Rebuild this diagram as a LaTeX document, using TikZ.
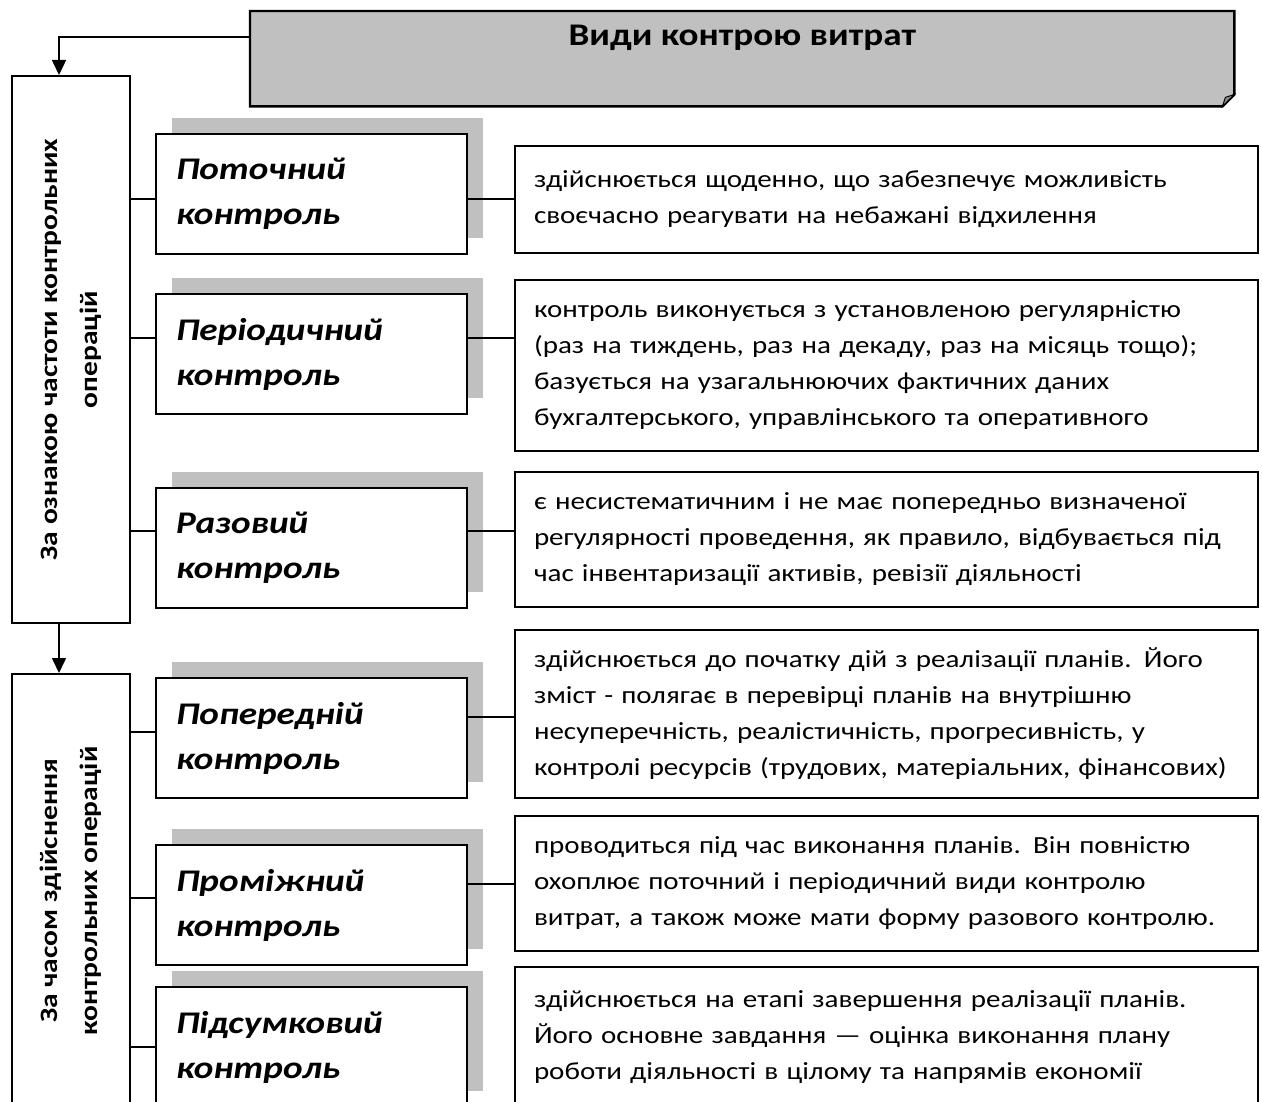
\documentclass[tikz,border=0pt]{standalone}
\usepackage{fontspec}
\setmainfont{Carlito}[FakeStretch=1.18]
\usetikzlibrary{arrows.meta,positioning,calc,shadows,backgrounds}
\definecolor{panelgray}{HTML}{C0C0C0}
\definecolor{foldgray}{HTML}{8C8C8C}
\tikzset{
  headbox/.style={
    minimum width=984pt,
    minimum height=95pt,
    inner sep=0pt,
    text height=20pt,
    text depth=47pt,
    font=\fontsize{31.5}{36}\selectfont\bfseries
  },
  headframe/.style={draw=black, line width=2.4pt, fill=panelgray},
  fold/.style={fill=foldgray, draw=black, line width=1pt},
  sidebox/.style={
    draw=black,
    line width=2pt,
    fill=white,
    minimum width=118pt,
    inner sep=0pt
  },
  sidetext/.style={rotate=90, align=center, font=\fontsize{25}{40}\selectfont\bfseries},
  kindbox/.style={
    draw=black,
    line width=2pt,
    fill=white,
    minimum height=120pt,
    text width=271pt,
    inner xsep=20pt,
    inner ysep=0pt,
    align=left,
    font=\fontsize{31.5}{45}\selectfont\bfseries\itshape,
    general shadow={fill=panelgray, shadow xshift=16pt, shadow yshift=16pt}
  },
  notebox/.style={
    draw=black,
    line width=2pt,
    fill=white,
    text width=705pt,
    inner xsep=19pt,
    inner ysep=0pt,
    align=left,
    font=\fontsize{24.6}{36}\selectfont
  },
  link/.style={line width=1.6pt, draw=black},
  feed/.style={link, -{Triangle[length=15pt, width=14pt]}}
}

\begin{document}
\begin{tikzpicture}[x=1pt, y=-1pt]

\clip (0,0) rectangle (1262,1102);

% heading with folded corner
\node[headbox, anchor=north west] (head) at (250,11) {Види контрою витрат};
\begin{pgfonlayer}{background}
  \filldraw[headframe] (head.north west) -- (head.north east) -- ($(head.south east)+(0,-12)$)
    -- ($(head.south east)+(-12,0)$) -- (head.south west) -- cycle;
  \filldraw[fold] ($(head.south east)+(-12,0)$) -- ($(head.south east)+(-9,-9)$)
    -- ($(head.south east)+(0,-12)$) -- cycle;
\end{pgfonlayer}

% grouping criteria
\node[sidebox, anchor=north west, minimum height=547pt] (freq) at (11,75) {};
\node[sidetext] (freqtxt) at (freq.center) {За ознакою частоти контрольних\\операцій};
\node[sidebox, below=49pt of freq, minimum height=434pt] (span) {};
\node[sidetext] (spantxt) at (span.center) {За часом здійснення\\контрольних операцій};

% kinds of control
\node[kindbox, anchor=north west] (current) at (155,133) {Поточний\\контроль};
\node[kindbox, below=38pt of current] (periodic) {Періодичний\\контроль};
\node[kindbox, below=72pt of periodic] (single) {Разовий\\контроль};
\node[kindbox, below=68pt of single] (prelim) {Попередній\\контроль};
\node[kindbox, below=45pt of prelim] (interim) {Проміжний\\контроль};
\node[kindbox, below=20pt of interim] (closing) {Підсумковий\\контроль};

% descriptions
\node[notebox, anchor=north west, minimum height=107pt] (currentnote) at (514,145) {здійснюється щоденно, що забезпечує можливість\\своєчасно реагувати на небажані відхилення};
\node[notebox, below=25pt of currentnote, minimum height=171pt] (periodicnote) {контроль виконується з установленою регулярністю\\(раз на тиждень, раз на декаду, раз на місяць тощо);\\базується на узагальнюючих фактичних даних\\бухгалтерського, управлінського та оперативного};
\node[notebox, below=19pt of periodicnote, minimum height=135pt] (singlenote) {є несистематичним і не має попередньо визначеної\\регулярності проведення, як правило, відбувається під\\час інвентаризації активів, ревізії діяльності};
\node[notebox, below=21pt of singlenote, minimum height=168pt] (prelimnote) {здійснюється до початку дій з реалізації планів. Його\\зміст - полягає в перевірці планів на внутрішню\\несуперечність, реалістичність, прогресивність, у\\контролі ресурсів (трудових, матеріальних, фінансових)};
\node[notebox, below=16pt of prelimnote, minimum height=135pt] (interimnote) {проводиться під час виконання планів. Він повністю\\охоплює поточний і періодичний види контролю\\витрат, а також може мати форму разового контролю.};
\node[notebox, below=14pt of interimnote, minimum height=141pt] (closingnote) {здійснюється на етапі завершення реалізації планів.\\Його основне завдання — оцінка виконання плану\\роботи діяльності в цілому та напрямів економії};

% feed arrows
\coordinate (drop) at (59,37);
\draw[feed] (head.west |- drop) -- (drop) -- (drop |- freq.north);
\draw[feed] (drop |- freq.south) -- (drop |- span.north);

% row levels of the links
\coordinate (r1) at (0,199);
\coordinate (r2) at (0,338);
\coordinate (r3) at (0,531);
\coordinate (r4) at (0,732);
\coordinate (r4n) at (0,717);
\coordinate (r5) at (0,898);
\coordinate (r5n) at (0,884);
\coordinate (r6) at (0,1047);

% links
\draw[link] (freq.east |- r1) -- (current.west |- r1);
\draw[link] (current.east |- r1) -- (currentnote.west |- r1);
\draw[link] (freq.east |- r2) -- (periodic.west |- r2);
\draw[link] (periodic.east |- r2) -- (periodicnote.west |- r2);
\draw[link] (freq.east |- r3) -- (single.west |- r3);
\draw[link] (single.east |- r3) -- (singlenote.west |- r3);
\draw[link] (span.east |- r4) -- (prelim.west |- r4);
\draw[link] (prelim.east |- r4n) -- (prelimnote.west |- r4n);
\draw[link] (span.east |- r5) -- (interim.west |- r5);
\draw[link] (interim.east |- r5n) -- (interimnote.west |- r5n);
\draw[link] (span.east |- r6) -- (closing.west |- r6);

\end{tikzpicture}
\end{document}
